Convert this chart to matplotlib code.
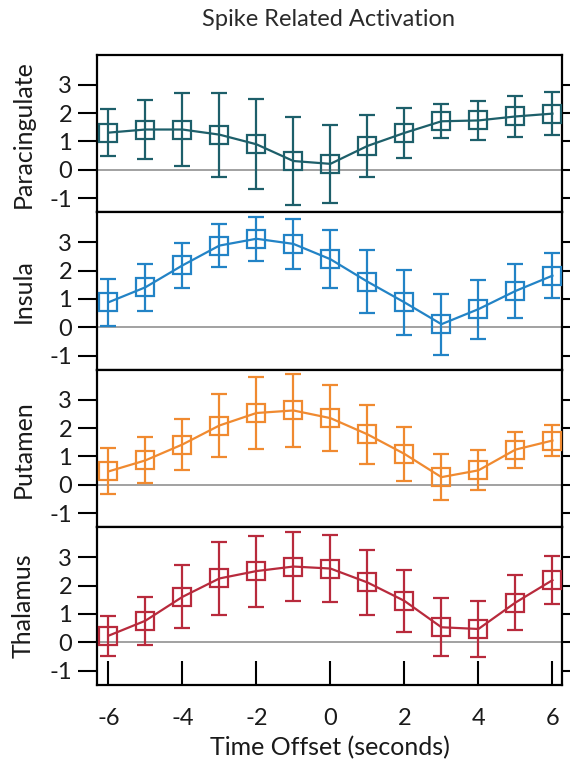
import numpy as np
import matplotlib
matplotlib.use("Agg")
import matplotlib.pyplot as plt

plt.rcParams['font.family'] = ['Lato', 'DejaVu Sans']

time_offset = [-6, -5, -4, -3, -2, -1, 0, 1, 2, 3, 4, 5, 6]

regions = ["Paracingulate", "Insula", "Putamen", "Thalamus"]
colors = ["#1d5f6a", "#2283c6", "#f08a30", "#b82a3c"]

paracingulate = [1.31, 1.42, 1.42, 1.24, 0.90, 0.31, 0.21, 0.84, 1.30, 1.71, 1.74, 1.88, 1.98]
paracingulate_err = [0.84, 1.03, 1.28, 1.48, 1.58, 1.56, 1.37, 1.09, 0.87, 0.60, 0.68, 0.72, 0.76]

insula = [0.88, 1.41, 2.18, 2.88, 3.12, 2.94, 2.40, 1.61, 0.88, 0.11, 0.64, 1.28, 1.82]
insula_err = [0.84, 0.83, 0.80, 0.76, 0.77, 0.88, 1.03, 1.12, 1.14, 1.07, 1.04, 0.94, 0.79]

putamen = [0.47, 0.86, 1.42, 2.09, 2.53, 2.62, 2.35, 1.78, 1.09, 0.27, 0.51, 1.24, 1.56]
putamen_err = [0.81, 0.81, 0.91, 1.10, 1.27, 1.29, 1.17, 1.03, 0.95, 0.80, 0.70, 0.63, 0.55]

thalamus = [0.23, 0.76, 1.60, 2.25, 2.51, 2.67, 2.60, 2.11, 1.46, 0.53, 0.47, 1.40, 2.19]
thalamus_err = [0.71, 0.84, 1.11, 1.27, 1.25, 1.23, 1.17, 1.14, 1.08, 1.03, 1.00, 0.97, 0.85]

series = [paracingulate, insula, putamen, thalamus]
errors = [paracingulate_err, insula_err, putamen_err, thalamus_err]

y_ticks = [-1, 0, 1, 2, 3]
y_ticklabels = ["-1", "0", "1", "2", "3"]
x_ticks = [-6, -4, -2, 0, 2, 4, 6]
x_ticklabels = ["-6", "-4", "-2", "0", "2", "4", "6"]

fig, axes = plt.subplots(4, 1, figsize=(5.72, 7.73), dpi=100, sharex=True)
fig.subplots_adjust(left=0.17, right=0.982, top=0.929, bottom=0.114, hspace=0)

for ax, name, col, vals, err in zip(axes, regions, colors, series, errors):
    ax.axhline(0, color="#9a9a9a", lw=1.3, zorder=1)
    ax.errorbar(time_offset, vals, yerr=err, color=col, lw=1.6,
                elinewidth=1.6, capsize=6, capthick=1.6,
                marker="s", markersize=13, markerfacecolor="none",
                markeredgecolor=col, markeredgewidth=1.6, zorder=3)
    ax.set_xlim(-6.3, 6.25)
    ax.set_ylim(-1.5, 4.05)
    ax.set_yticks(y_ticks)
    ax.set_yticklabels(y_ticklabels, fontsize=17, color="#1a1a1a")
    ax.tick_params(axis="y", direction="out", length=14, width=1.5,
                   right=True, labelright=False, pad=4)
    # right-hand ticks are short stubs
    for t in ax.yaxis.get_major_ticks():
        t.tick2line.set_markersize(6)
    ax.set_ylabel(name, fontsize=18, color="#1a1a1a")
    for sp in ax.spines.values():
        sp.set_linewidth(1.6)
    ax.tick_params(axis="x", bottom=False, labelbottom=False)

bottom_ax = axes[-1]
bottom_ax.set_xticks(x_ticks)
bottom_ax.set_xticklabels(x_ticklabels, fontsize=17, color="#1a1a1a")
bottom_ax.tick_params(axis="x", bottom=True, labelbottom=True, direction="in",
                      length=17, width=1.5, pad=17)
bottom_ax.set_xlabel("Time Offset (seconds)", fontsize=18, color="#1a1a1a", labelpad=5)

fig.suptitle("Spike Related Activation", x=0.575, y=0.988, fontsize=17, color="#2a2a2a")

for ax in axes:
    ax.yaxis.set_label_coords(-0.135, 0.5)

fig.savefig("out.png", dpi=100)
